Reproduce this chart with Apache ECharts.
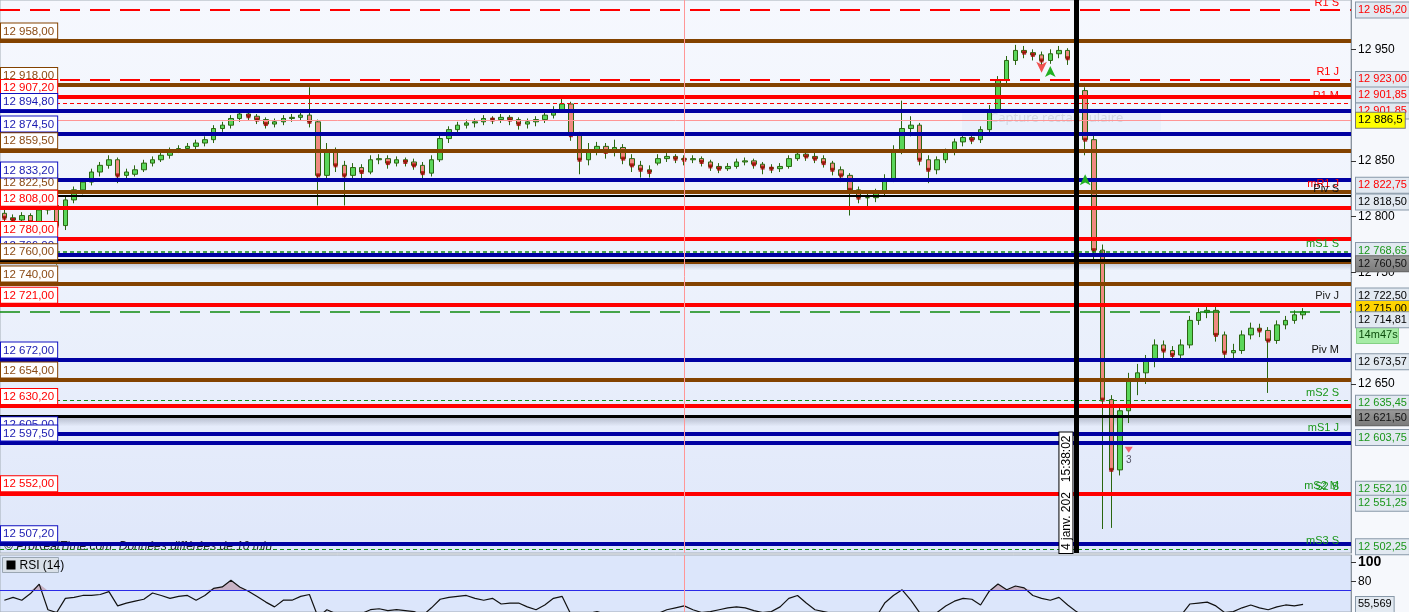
<!DOCTYPE html>
<html><head><meta charset="utf-8">
<script src="https://cdn.jsdelivr.net/npm/echarts@6/dist/echarts.min.js"></script>
<style>html,body{margin:0;padding:0;background:#f6f8fc;overflow:hidden}#c{width:1409px;height:612px}</style>
</head><body><div id="c"></div>
<script>
// ---------- DATA ----------
// candles: [open, close, low, high]
const candles = [
[12803,12799,12795,12806],[12799,12797,12793,12802],[12797,12801,12794,12804],[12801,12795,12790,12803],[12795,12806,12793,12809],
[12806,12810,12802,12814],[12810,12792,12757,12812],[12792,12815,12788,12818],[12815,12824,12812,12827],[12824,12831,12820,12834],
[12831,12840,12828,12843],[12840,12846,12836,12849],[12846,12851,12843,12855],[12851,12837,12830,12853],[12837,12840,12833,12843],
[12838,12842,12836,12846],[12842,12848,12840,12851],[12848,12851,12845,12854],[12851,12855,12849,12858],[12855,12860,12852,12862],
[12860,12861,12857,12864],[12861,12863,12858,12866],[12863,12866,12860,12869],[12866,12869,12863,12872],[12869,12879,12866,12882],
[12879,12882,12876,12885],[12882,12888,12879,12891],[12888,12892,12885,12895],[12892,12890,12886,12894],[12890,12887,12883,12892],
[12887,12883,12879,12889],[12883,12885,12880,12888],[12885,12888,12882,12891],[12888,12889,12885,12892],[12889,12891,12886,12894],
[12891,12885,12880,12916],[12885,12837,12810,12887],[12837,12860,12832,12866],[12860,12846,12840,12862],[12846,12837,12810,12850],
[12837,12844,12833,12848],[12844,12840,12834,12847],[12840,12851,12838,12855],[12851,12852,12847,12856],[12852,12848,12843,12855],
[12848,12851,12845,12854],[12851,12849,12845,12853],[12849,12846,12842,12852],[12846,12839,12834,12849],[12839,12851,12836,12855],
[12851,12870,12849,12873],[12870,12878,12866,12881],[12878,12882,12875,12885],[12882,12884,12879,12887],[12884,12885,12880,12888],
[12885,12888,12882,12891],[12888,12887,12883,12890],[12887,12889,12884,12892],[12889,12887,12882,12891],[12887,12883,12878,12889],
[12883,12885,12879,12888],[12885,12887,12881,12890],[12887,12891,12884,12894],[12891,12896,12888,12899],[12896,12901,12893,12909],
[12901,12873,12868,12903],[12873,12851,12838,12876],[12851,12860,12846,12866],[12860,12863,12855,12867],[12863,12858,12852,12866],
[12858,12862,12854,12869],[12862,12852,12847,12865],[12852,12846,12840,12856],[12846,12842,12835,12850],[12842,12840,12835,12846],
[12848,12852,12846,12856],[12852,12854,12849,12857],[12854,12852,12848,12856],[12852,12851,12846,12855],[12851,12852,12848,12855],
[12852,12849,12845,12854],[12849,12845,12841,12851],[12845,12843,12839,12848],[12843,12845,12841,12848],[12845,12849,12843,12852],
[12849,12850,12846,12853],[12850,12847,12843,12852],[12847,12844,12838,12849],[12844,12843,12839,12847],[12843,12845,12840,12848],
[12845,12852,12843,12855],[12852,12856,12850,12859],[12856,12854,12850,12858],[12854,12852,12848,12857],[12852,12848,12844,12855],
[12848,12842,12837,12850],[12842,12837,12831,12845],[12837,12824,12801,12839],[12824,12817,12812,12827],[12817,12817,12806,12821],
[12817,12821,12813,12825],[12821,12834,12818,12838],[12834,12860,12831,12864],[12860,12879,12856,12904],[12879,12882,12872,12890],
[12882,12851,12846,12884],[12851,12842,12830,12855],[12842,12851,12838,12854],[12851,12858,12848,12861],[12858,12867,12855,12870],
[12867,12871,12863,12874],[12871,12869,12865,12874],[12869,12878,12866,12881],[12878,12896,12875,12900],[12896,12922,12893,12926],
[12922,12940,12918,12944],[12940,12949,12936,12954],[12949,12947,12942,12953],[12947,12945,12940,12950],[12945,12940,12934,12948],
[12940,12946,12937,12950],[12946,12949,12942,12953],[12949,12942,12936,12951],[12942,12913,12900,12944],[12913,12869,12855,12916],
[12869,12770,12760,12873],[12770,12636,12520,12775],[12636,12573,12521,12640],[12573,12626,12568,12632],[12626,12653,12615,12660],
[12653,12660,12640,12668],[12660,12671,12650,12676],[12671,12685,12665,12690],[12685,12680,12672,12689],[12680,12676,12670,12684],
[12676,12685,12672,12690],[12685,12707,12682,12711],[12707,12714,12703,12718],[12714,12716,12709,12722],[12716,12694,12688,12719],
[12694,12678,12672,12697],[12678,12680,12673,12686],[12680,12694,12677,12698],[12694,12700,12690,12705],[12700,12698,12692,12704],
[12698,12689,12642,12701],[12689,12703,12686,12707],[12703,12707,12699,12711],[12707,12712,12704,12716],[12712,12714.81,12708,12718]
];
const rsiValues = [
60,63,60,67,77,50,47,62,63,65,
65,66,69,54,57,59,61,67.6,65,62,
64,65,60,65,72.4,74,81,74,69.5,64,
58,53,60,60,64,66,42,50,46,44,
47,46,50,51,49,50,49,48,44,52,
61,63,64,65,62,60,62,56,57,57,
53,50,55,62,64,45,40,46,48,45,
47,43,41,39,38,46,50,52,54,50,
47,48,50,52,53,52,49,47,48,53,
62,65,57,50,48,46,43,38,37,38,
42,57,65,71,60,47,43,47,54,59,
62,61,55,69.5,77,71,75,73,65,62,
60,63,55,48,42,30,22,20,30,34,
35,38,42,40,40,44,56,57,58,54,
47,48,52,55,52,50,53,55,54,55.569
];
const slotCount = 155;
const categories = Array.from({length: slotCount}, (_, i) => String(i));
const markerIndex = 123;        // vertical black marker
const crosshairIndex = 78;       // pink crosshair
const crosshairPrice = 12886.5;
const markerText = '4 janv. 202   15:38:02';

// fixed levels with left labels
const leftLevelValues = [12958, 12918, 12907.2, 12894.8, 12874.5, 12859.5, 12822.5, 12833.2, 12808, 12780, 12766, 12760, 12740, 12721, 12672, 12654, 12630.2, 12605, 12597.5, 12552, 12507.2];
const leftLevelKinds  = ['brown','brown','red','blue','blue','brown','brown','blue','red','red','blue','brown','brown','red','blue','brown','red','blue','blue','red','blue'];

// pivot levels with right labels
const rightLevelValues = [12985.2, 12923, 12901.85, 12901.85, 12822.75, 12818.5, 12768.65, 12760.5, 12722.5, 12715, 12714.81, 12673.57, 12635.45, 12621.5, 12603.75, 12552.1, 12551.25, 12502.25];
const rightLevelTags   = ['R1 S', 'R1 J', 'R1 M', '', 'mR1 J', 'Piv S', 'mS1 S', '', 'Piv J', '', '', 'Piv M', 'mS2 S', '', 'mS1 J', 'mS2 M', 'S2 S', 'mS3 S'];
const rsiLevel = 70;
const priceTicks = [12650, 12750, 12800, 12850, 12950];
const rsiTicks = [80, 100];
const countdownText = '14m47s';
// signal arrows: [candle index, price]
const sellSignals = [[119, 12929]];
const buySignals  = [[120, 12935], [124, 12838]];
const countSignals = [[129, 12591]];

// ---------- STYLES ----------
const kindColor = {brown:'#834200', red:'#ff0000', blue:'#0000a2'};
const kindText  = {brown:'#8a4a14', red:'#ff0000', blue:'#1a1ab0'};
const CLEAR = 'rgba(0,0,0,0)';
// per right level: [lineType, lineColor, lineWidth, textColor, boxStyle, labelDy, tagColor]
const rightStyles = [
  ['dash20','#ff0000',2,'#ff0000','std',0,'#ff0000'],
  ['dash20','#ff0000',2,'#ff0000','std',0,'#ff0000'],
  ['dash4','#ff0000',1,'#ff0000','std',-8,'#ff0000'],
  ['none',null,0,'#ff0000','std',8,'#ff0000'],
  ['none',null,0,'#ff0000','std',-6,'#ff0000'],
  ['solid','#000000',2,'#000000','std',6,'#111111'],
  ['dash4','#138a13',1.5,'#1a961a','std',-1,'#1a961a'],
  ['solid','#000000',3,'#111111','gray',3,'#111'],
  ['none',null,0,'#000000','std',-7,'#222222'],
  ['dash20','#0f8a0f',1.5,'#000000','gold',-3,'#1a961a'],
  ['none',null,0,'#000000','std',8,'#000'],
  ['none',null,0,'#000000','std',4,'#111111'],
  ['dash4','#138a13',1,'#1a961a','std',3,'#1a961a'],
  ['solid','#000000',3,'#111111','gray',2,'#111'],
  ['none',null,0,'#1a961a','std',2,'#1a961a'],
  ['none',null,0,'#1a961a','std',-4,'#1a961a'],
  ['none',null,0,'#1a961a','std',9,'#1a961a'],
  ['dash4','#138a13',1,'#1a961a','std',-2,'#1a961a']
];

function fmt(v, d) {
  const s = v.toFixed(d);
  const parts = s.split('.');
  const ip = parts[0].replace(/\B(?=(\d{3})+(?!\d))/g, ' ');
  return parts[1] ? ip + ',' + parts[1] : ip;
}
const FONT = 'Liberation Sans, Arial, sans-serif';

const markData = [];
leftLevelValues.forEach((v, i) => {
  const k = leftLevelKinds[i];
  markData.push({
    yAxis: v,
    lineStyle: {color: kindColor[k], width: 4, type: 'solid'},
    label: {show: true, position: 'insideStartTop', distance: [1, 2], formatter: fmt(v, 2),
      color: kindText[k], fontSize: 11.5, fontFamily: FONT, backgroundColor: '#ffffff',
      borderColor: k === 'blue' ? '#1010c0' : kindColor[k], borderWidth: 1, padding: [2, 3, 1, 2], lineHeight: 12}
  });
});
rightLevelValues.forEach((v, i) => {
  const st = rightStyles[i];
  const lt = st[0];
  const hasLine = lt !== 'none';
  markData.push({
    yAxis: v,
    lineStyle: hasLine ? {color: st[1], width: st[2], type: lt === 'dash20' ? [20, 10] : (lt === 'dash4' ? [4, 3] : 'solid')}
                       : {color: CLEAR, width: 1},
    label: {show: !!rightLevelTags[i], position: 'insideEndTop', distance: [12, 2], formatter: rightLevelTags[i],
      color: st[6], fontSize: 11, fontFamily: FONT}
  });
  const box = st[4];
  markData.push({
    yAxis: v,
    lineStyle: {color: CLEAR, width: 1},
    label: {show: true, position: 'end', distance: 5, formatter: fmt(v, 2),
      color: st[3], fontSize: 11, fontFamily: FONT, offset: [0, st[5]],
      backgroundColor: box === 'gray' ? {type:'linear',x:0,y:0,x2:0,y2:1,colorStops:[{offset:0,color:'#9a9a9a'},{offset:1,color:'#7a7a7a'}]} : (box === 'gold' ? '#ffd400' : '#e2e9f1'),
      borderColor: box === 'gray' ? '#666' : '#8898a8', borderWidth: 1, padding: [2, 2, 1, 2], lineHeight: 12}
  });
});
markData.push({
  yAxis: crosshairPrice,
  lineStyle: {color: '#ff9696', width: 1, type: 'solid'},
  label: {show: true, position: 'end', distance: 5, formatter: fmt(crosshairPrice, 1), color: '#000', fontSize: 11.5, fontFamily: FONT,
    backgroundColor: '#ffff00', borderColor: '#777', borderWidth: 1, padding: [2, 2, 1, 2], lineHeight: 12}
});
markData.push({xAxis: crosshairIndex, lineStyle: {color: '#ff9696', width: 1, type: 'solid'}, label: {show: false}});
markData.push({
  xAxis: markerIndex,
  lineStyle: {color: '#000', width: 5, type: 'solid'},
  label: {show: true, position: 'insideStartTop', distance: [0, 4], formatter: markerText, color: '#000', fontSize: 12, fontFamily: FONT,
    backgroundColor: '#fff', borderColor: '#000', borderWidth: 1, padding: [1, 3, 0, 3], lineHeight: 12}
});

const markPoints = [];
sellSignals.forEach(p => markPoints.push({coord: p, symbol: 'arrow', symbolRotate: 180, symbolSize: [8, 11], itemStyle: {color: '#f05050'}, label: {show: false}}));
buySignals.forEach(p => markPoints.push({coord: p, symbol: 'arrow', symbolSize: [8, 11], itemStyle: {color: '#22b022'}, label: {show: false}}));
countSignals.forEach(p => markPoints.push({coord: p, symbol: 'triangle', symbolRotate: 180, symbolSize: [8, 6], itemStyle: {color: '#f06070'},
  label: {show: true, formatter: '3', position: 'bottom', distance: 2, color: '#556', fontSize: 10, fontFamily: FONT}}));

const downDots = [];
candles.forEach((c, i) => { if (c[1] < c[0]) downDots.push([i, c[1]]); });
const rsiFill = rsiValues.map(v => Math.max(v, rsiLevel));
const lastRsi = rsiValues[rsiValues.length - 1];

const chart = echarts.init(document.getElementById('c'), null, {renderer: 'canvas'});
chart.setOption({
  animation: false,
  backgroundColor: '#f6f8fc',
  grid: [
    {left: 0, right: 58, top: 0, height: 553, show: true, borderColor: '#a4adb6', borderWidth: 1,
     backgroundColor: {type:'linear',x:0,y:0,x2:0,y2:1,colorStops:[{offset:0,color:'#f6f8fe'},{offset:0.5,color:'#edf2fc'},{offset:1,color:'#dfe7fa'}]}},
    {left: 0, right: 58, top: 555, height: 63, show: true, borderColor: '#a4adb6', borderWidth: 1, backgroundColor: '#dce6fb'}
  ],
  xAxis: [
    {type: 'category', gridIndex: 0, data: categories, boundaryGap: true, axisLine: {show: false}, axisTick: {show: false}, axisLabel: {show: false}, splitLine: {show: false}},
    {type: 'category', gridIndex: 1, data: categories, boundaryGap: true, axisLine: {show: false}, axisTick: {show: false}, axisLabel: {show: false}, splitLine: {show: false}}
  ],
  yAxis: [
    {type: 'value', gridIndex: 0, position: 'right', min: 12498.5, max: 12994.2, scale: true,
     axisLine: {show: true, lineStyle: {color: '#8a949e'}},
     axisTick: {show: true, length: 5, lineStyle: {color: '#333'}, customValues: priceTicks},
     axisLabel: {show: true, customValues: priceTicks, formatter: v => fmt(v, 0), color: '#000', fontSize: 12, fontFamily: FONT, margin: 7},
     splitLine: {show: false}},
    {type: 'value', gridIndex: 1, position: 'right', min: 47.6, max: 107.6,
     axisLine: {show: true, lineStyle: {color: '#8a949e'}},
     axisTick: {show: true, length: 5, lineStyle: {color: '#333'}, customValues: rsiTicks},
     axisLabel: {show: true, customValues: rsiTicks, formatter: v => v === 100 ? '{b|100}' : String(v), color: '#000', fontSize: 12, fontFamily: FONT, margin: 7,
       rich: {b: {fontWeight: 'bold', fontSize: 14, fontFamily: FONT, color: '#000'}}},
     splitLine: {show: false}}
  ],
  series: [
    {type: 'candlestick', xAxisIndex: 0, yAxisIndex: 0, data: candles, barWidth: 5,
     itemStyle: {color: '#5ad65a', color0: '#f08a80', borderColor: '#2a6610', borderColor0: '#2a6610', borderWidth: 1},
     markArea: {silent: true, data: [
       [{yAxis: 12760.5, itemStyle: {color: {type:'linear',x:0,y:0,x2:0,y2:1,colorStops:[{offset:0,color:'rgba(150,156,175,0.7)'},{offset:1,color:'rgba(150,156,175,0)'}]}}}, {yAxis: 12752}],
       [{yAxis: 12621.5, itemStyle: {color: {type:'linear',x:0,y:0,x2:0,y2:1,colorStops:[{offset:0,color:'rgba(150,156,175,0.7)'},{offset:1,color:'rgba(150,156,175,0)'}]}}}, {yAxis: 12612}]
     ]},
     markLine: {silent: true, symbol: ['none', 'none'], animation: false, precision: 2, data: markData},
     markPoint: {silent: true, animation: false, data: markPoints}
    },
    {type: 'scatter', xAxisIndex: 0, yAxisIndex: 0, data: downDots, symbol: 'rect', symbolSize: 4, itemStyle: {color: '#a80000'}, z: 3},
    {type: 'line', xAxisIndex: 1, yAxisIndex: 1, data: rsiFill, symbol: 'none', lineStyle: {width: 0},
     areaStyle: {origin: rsiLevel, color: '#c8b2c4', opacity: 1}, z: 2},
    {type: 'line', xAxisIndex: 1, yAxisIndex: 1, data: rsiValues, symbol: 'none', lineStyle: {color: '#111', width: 1.2}, z: 3,
     markLine: {silent: true, symbol: ['none', 'none'], animation: false, data: [
       {yAxis: rsiLevel, lineStyle: {color: '#2a2ae8', width: 1.2, type: 'solid'}, label: {show: false}},
       {xAxis: crosshairIndex, lineStyle: {color: '#ff9696', width: 1, type: 'solid'}, label: {show: false}},
       {yAxis: lastRsi, lineStyle: {color: CLEAR, width: 1}, label: {show: true, position: 'end', distance: 5, formatter: fmt(lastRsi, 3),
         color: '#000', fontSize: 11, fontFamily: FONT, backgroundColor: '#e2e9f1', borderColor: '#8898a8', borderWidth: 1, padding: [2, 2, 1, 2], lineHeight: 12}}
     ]}}
  ],
  graphic: [
    {type: 'text', left: 4, top: 541, z: 1, style: {text: '© ProRealTime.com  Données différées de 10 min', font: 'italic 12px ' + FONT, fill: '#222'}},
    {type: 'group', left: 2, top: 557, z: 100, children: [
      {type: 'rect', shape: {x: 0, y: 0, width: 56, height: 15}, style: {fill: '#d9e0e8', stroke: '#9aa6b2', lineWidth: 1}},
      {type: 'rect', shape: {x: 4, y: 3, width: 9, height: 9}, style: {fill: '#000'}},
      {type: 'text', x: 17, y: 2, style: {text: 'RSI (14)', font: '12px ' + FONT, fill: '#000'}}
    ]},
    {type: 'group', left: 962, top: 108, z: 1, children: [
      {type: 'rect', shape: {x: 0, y: 0, width: 199, height: 23}, style: {fill: 'rgba(228,236,250,0.6)'}},
      {type: 'text', x: 28, y: 4, style: {text: 'Capture rectangulaire', font: '13px Noto Sans', fill: '#d2d8e2'}}
    ]},
    {type: 'group', left: 1356, top: 327, z: 100, children: [
      {type: 'rect', shape: {x: 0, y: 0, width: 42, height: 16}, style: {fill: '#a6eca6', stroke: '#84d084', lineWidth: 1}},
      {type: 'text', x: 2, y: 2, style: {text: countdownText, font: '11px ' + FONT, fill: '#0d4d0d'}}
    ]}
  ]
});
</script>
</body></html>
